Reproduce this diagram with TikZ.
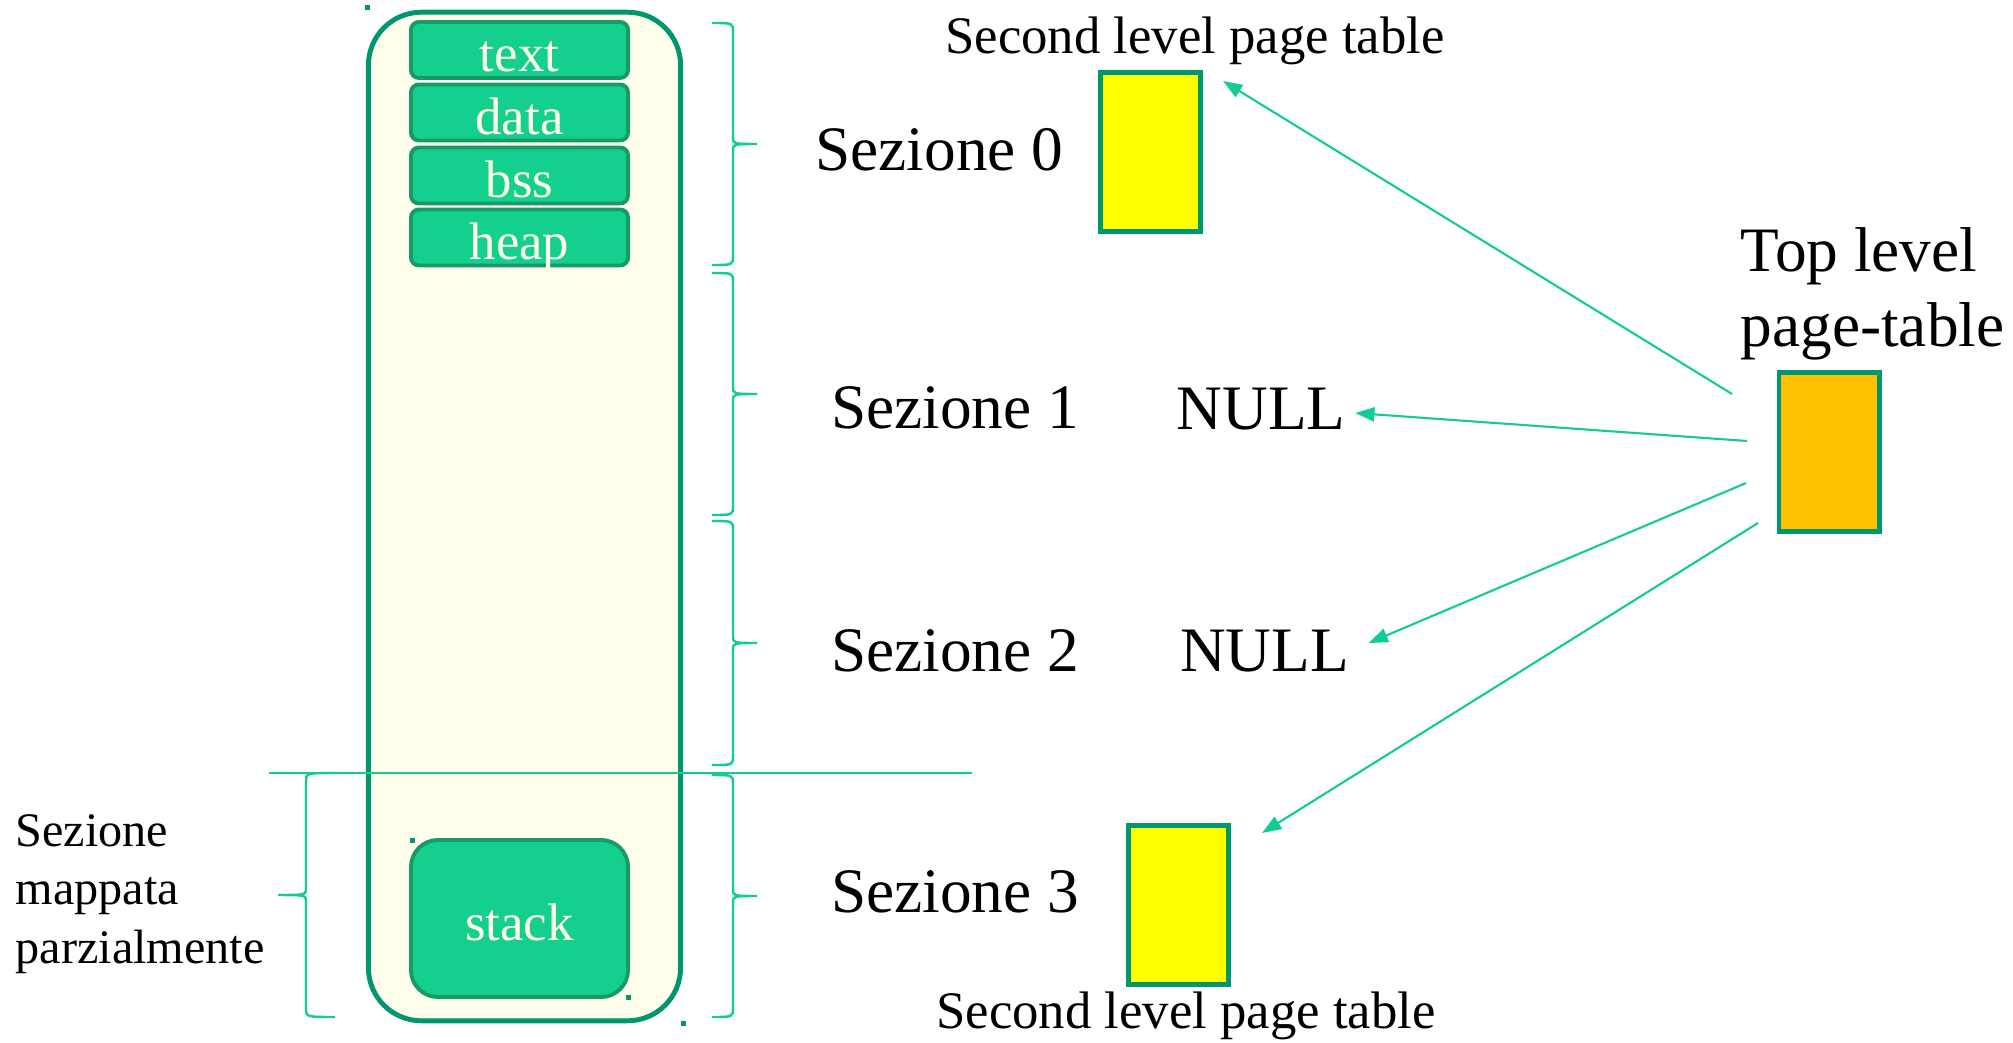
\documentclass[tikz,border=0pt]{standalone}
\usepackage{fontspec}
\setmainfont{Liberation Serif}
\usetikzlibrary{arrows.meta,calc}

\definecolor{boxline}{RGB}{0,150,110}
\definecolor{segline}{RGB}{22,154,104}
\definecolor{segfill}{RGB}{20,207,142}
\definecolor{memfill}{RGB}{255,255,236}
\definecolor{cream}{RGB}{255,255,232}
\definecolor{lnk}{RGB}{18,204,150}
\definecolor{ptyellow}{RGB}{255,255,0}
\definecolor{ptorange}{RGB}{255,192,0}

\begin{document}
\begin{tikzpicture}[x=0.01cm,y=-0.01cm,>={Triangle[length=5.5pt,width=4pt]},
  seg/.style={draw=segline,fill=segfill,line width=1.1pt,rounded corners=0.08cm,
    minimum width=2.17cm,minimum height=0.56cm,inner sep=0pt,text=cream,
    text height=12.5pt,text depth=0pt,font=\fontsize{15}{18}\selectfont},
  ptab/.style={draw=boxline,line width=1.4pt,inner sep=0pt,minimum width=1cm,minimum height=1.59cm},
  lbl/.style={inner sep=0pt,font=\fontsize{18}{21.3}\selectfont},
  ptcap/.style={inner sep=0pt,anchor=base,font=\fontsize{15}{18}\selectfont},
  brc/.style={draw=lnk,line width=0.7pt},
  lnkarrow/.style={draw=lnk,line width=0.6pt,->}]
\useasboundingbox (0,0) rectangle (2013,1043);

% address space
\node[draw=boxline,fill=memfill,line width=1.4pt,rounded corners=0.53cm,
  minimum width=3.12cm,minimum height=10.08cm] (mem) at (524.5,516.5) {};
\draw[lnk,line width=0.6pt] (269,773) -- (972,773);
\node[seg] (txt) at (519.5,50) {text};
\node[seg] (dat) at (519.5,112.5) {data};
\node[seg] (bss) at (519.5,175.5) {bss};
\node[seg] (hp) at (519.5,237.5) {heap};
\node[seg,rounded corners=0.27cm,minimum width=2.17cm,minimum height=1.57cm] (stk) at (519.5,918.5) {stack};
\foreach \p in {(367,8),(412,840),(628,997),(683,1023)} {\fill[boxline] \p ++(-2.5,-2.5) rectangle ++(5,5);}

% braces
\foreach \a/\b in {23/265,273/515,521/765,775/1017} {
  \pgfmathsetmacro\m{(\a+\b)/2}
  \draw[brc] (712,\a) .. controls (733,\a) and (733,\a) .. (733,\a+9) -- (733,\m-7)
    .. controls (733,\m) and (733,\m) .. (757,\m) .. controls (733,\m) and (733,\m) .. (733,\m+7)
    -- (733,\b-9) .. controls (733,\b) and (733,\b) .. (712,\b);
}
\draw[brc] (335,773) .. controls (306,773) and (306,773) .. (306,782) -- (306,888)
  .. controls (306,895) and (306,895) .. (278,895) .. controls (306,895) and (306,895) .. (306,902)
  -- (306,1008) .. controls (306,1017) and (306,1017) .. (335,1017);

\node[lbl] (s0) at (939.5,150) {Sezione 0};
\node[lbl] (s1) at (955,408) {Sezione 1};
\node[lbl] (s2) at (955,651) {Sezione 2};
\node[lbl] (s3) at (955,892) {Sezione 3};
\node[lbl,font=\fontsize{13.7}{16.6}\selectfont,align=left,anchor=north west] (parz) at (15,814) {Sezione\\mappata\\parzialmente};

% page tables
\node[ptab,fill=ptyellow] (pt0) at (1150.5,152) {};
\node[ptab,fill=ptyellow] (pt3) at (1178.5,905) {};
\node[ptab,fill=ptorange] (top) at (1829,452) {};
\node[ptcap] (cap0) at (1195,54) {Second level page table};
\node[ptcap] (cap3) at (1186,1028) {Second level page table};
\node[lbl,align=left,anchor=north west] (toplbl) at (1740,227) {Top level\\page-table};
\node[lbl] (null1) at (1261,409) {NULL};
\node[lbl] (null2) at (1264.5,651.5) {NULL};

\coordinate (o0) at (1732,394);
\coordinate (o1) at (1747,441);
\coordinate (o2) at (1746,483);
\coordinate (o3) at (1758,523);
\draw[lnkarrow] (o0) -- ($(pt0.north east)+(20,11)$);
\draw[lnkarrow] (o1) -- ($(null1.east)+(9,4)$);
\draw[lnkarrow] (o2) -- ($(null2.east)+(19,-8.5)$);
\draw[lnkarrow] (o3) -- ($(pt3.north east)+(31,10)$);
\end{tikzpicture}
\end{document}
